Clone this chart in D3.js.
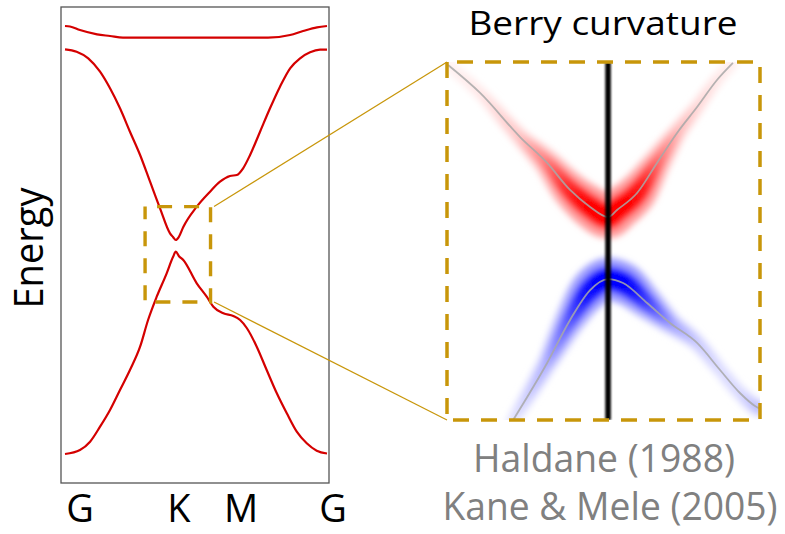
<!DOCTYPE html>
<html>
<head>
<meta charset="utf-8">
<script src="https://cdn.jsdelivr.net/npm/d3@7"></script>
<style>
  body { margin: 0; background: #fff; }
  svg { display: block; }
  text { font-family: "Open Sans", "DejaVu Sans", sans-serif; }
</style>
</head>
<body>
<svg id="chart" width="785" height="534"></svg>
<script>
// --- band structure along G-K-M-G (left panel) ---
const symLabels = ['G', 'K', 'M', 'G'];
const symK = [0, 0.667, 1.0, 1.577];
const labelShift = [15, 3, 10, 6];

const topBandK = [0, 0.03, 0.09, 0.193, 0.271, 0.349, 0.6, 0.9, 1.222, 1.355, 1.433, 1.517, 1.577];
const topBandE = [1.10, 1.0975, 1.08, 1.0585, 1.05, 1.0415, 1.0415, 1.0415, 1.0415, 1.055, 1.075, 1.0935, 1.10];

const condK = [0, 0.070, 0.140, 0.211, 0.271, 0.331, 0.391, 0.452, 0.512, 0.572, 0.632, 0.650, 0.667, 0.685, 0.712,
  0.793, 0.873, 0.933, 0.993, 1.034, 1.072, 1.114, 1.174, 1.234, 1.294, 1.355, 1.415, 1.475, 1.535, 1.577];
const condE = [0.9835, 0.9715, 0.9385, 0.8715, 0.7885, 0.6885, 0.5715, 0.455, 0.3215, 0.1885, 0.0635, 0.045, 0.03, 0.045, 0.095,
  0.1965, 0.2715, 0.3215, 0.35, 0.355, 0.3885, 0.455, 0.5715, 0.6885, 0.7965, 0.8885, 0.9385, 0.9685, 0.9815, 0.9815];

const valK = [0, 0.090, 0.151, 0.211, 0.271, 0.331, 0.391, 0.452, 0.500, 0.552, 0.612, 0.650, 0.667, 0.685, 0.712,
  0.793, 0.853, 0.893, 0.953, 1.013, 1.054, 1.094, 1.154, 1.214, 1.275, 1.335, 1.395, 1.455, 1.515, 1.577];
const valE = [-1.04, -1.02, -0.9785, -0.9035, -0.82, -0.72, -0.62, -0.5035, -0.37, -0.2535, -0.1365, -0.055, -0.0285, -0.05, -0.07,
  -0.1865, -0.2535, -0.3035, -0.3365, -0.35, -0.37, -0.41, -0.5035, -0.62, -0.7365, -0.8365, -0.9285, -0.9865, -1.0235, -1.0375];

// region around K that is blown up on the right
const zoomK = [0.482, 0.876];
const zoomE = [-0.28, 0.197];

// --- Berry curvature near K (right panel) ---
const bcCondQ = [-1.053, -0.842, -0.579, -0.401, -0.25, -0.118, 0, 0.059, 0.191, 0.322, 0.454, 0.586, 0.717, 0.822];
const bcCondE = [1.019, 0.864, 0.619, 0.475, 0.325, 0.231, 0.175, 0.214, 0.308, 0.475, 0.642, 0.786, 0.936, 1.031];
const bcCondW = [0.05, 0.09, 0.22, 0.47, 0.78, 0.96, 1, 1, 0.87, 0.52, 0.26, 0.15, 0.09, 0.06];

const bcValQ = [-0.63, -0.401, -0.25, -0.118, 0, 0.099, 0.257, 0.408, 0.586, 0.737, 0.868, 0.967, 1.0];
const bcValE = [-0.96, -0.636, -0.397, -0.231, -0.17, -0.192, -0.303, -0.414, -0.525, -0.675, -0.803, -0.875, -0.89];
const bcValW = [0.1, 0.3, 0.6, 0.9, 1, 0.95, 0.65, 0.35, 0.2, 0.14, 0.15, 0.22, 0.26];

const gold = '#c8960a';
const svg = d3.select('#chart');
const defs = svg.append('defs');

// ---------- left panel ----------
const x = d3.scaleLinear().domain([0, 1.577]).range([65, 327]);
const y = d3.scaleLinear().domain([-1.185, 1.195]).range([483, 7]);

svg.append('rect')
  .attr('x', 61).attr('y', 7).attr('width', 268).attr('height', 476)
  .attr('fill', 'none').attr('stroke', '#555').attr('stroke-width', 1.3);

const bandLine = d3.line().x(d => x(d[0])).y(d => y(d[1])).curve(d3.curveMonotoneX);
const bands = [
  d3.zip(topBandK, topBandE),
  d3.zip(condK, condE),
  d3.zip(valK, valE)
];
svg.append('g').selectAll('path')
  .data(bands)
  .enter()
  .append('path')
  .attr('d', bandLine)
  .attr('fill', 'none')
  .attr('stroke', '#d40000')
  .attr('stroke-width', 2.2);

svg.append('g').selectAll('text')
  .data(symLabels)
  .enter()
  .append('text')
  .attr('x', (d, i) => x(symK[i]) + labelShift[i])
  .attr('y', 522)
  .attr('text-anchor', 'middle')
  .attr('font-size', 38)
  .attr('fill', '#000')
  .text(d => d);

svg.append('text')
  .attr('transform', 'translate(43,248) rotate(-90)')
  .attr('text-anchor', 'middle')
  .attr('font-size', 40)
  .attr('textLength', 121)
  .attr('lengthAdjust', 'spacingAndGlyphs')
  .text('Energy');

// zoom box + connectors
const zx0 = x(zoomK[0]), zx1 = x(zoomK[1]), zy0 = y(zoomE[1]), zy1 = y(zoomE[0]);

// ---------- right panel ----------
const q = d3.scaleLinear().domain([-1.06, 1.0]).range([447, 760]);
const e = d3.scaleLinear().domain([-0.953, 1.036]).range([420, 62]);
const [px0, px1] = q.range();
const [py1, py0] = e.range();

svg.append('g')
  .attr('stroke', gold).attr('stroke-width', 1.2)
  .selectAll('line')
  .data([[zy0, py0], [zy1, py1]])
  .enter()
  .append('line')
  .attr('x1', zx1 + 3.5).attr('y1', d => d[0])
  .attr('x2', px0).attr('y2', d => d[1]);

svg.append('rect')
  .attr('x', zx0).attr('y', zy0).attr('width', zx1 - zx0).attr('height', zy1 - zy0)
  .attr('fill', 'none').attr('stroke', gold).attr('stroke-width', 3.4)
  .attr('stroke-dasharray', '15 12').attr('stroke-dashoffset', -12);

defs.append('clipPath').attr('id', 'panel-clip')
  .append('rect').attr('x', px0).attr('y', py0).attr('width', px1 - px0).attr('height', py1 - py0);
defs.append('filter').attr('id', 'blur-big')
  .attr('x', '-20%').attr('y', '-20%').attr('width', '140%').attr('height', '140%')
  .append('feGaussianBlur').attr('stdDeviation', 3.2);
defs.append('filter').attr('id', 'blur-small')
  .attr('x', '-50%').attr('y', '-5%').attr('width', '200%').attr('height', '110%')
  .append('feGaussianBlur').attr('stdDeviation', 1.1);
defs.append('filter').attr('id', 'blur-line')
  .attr('x', '-10%').attr('y', '-10%').attr('width', '120%').attr('height', '120%')
  .append('feGaussianBlur').attr('stdDeviation', 0.7);

const panel = svg.append('g').attr('clip-path', 'url(#panel-clip)');
const curvLine = d3.line().x(d => q(d[0])).y(d => e(d[1])).curve(d3.curveMonotoneX);

const bcBands = [
  { pts: d3.zip(bcCondQ, bcCondE), w: bcCondQ, v: bcCondW, color: '#ff0000' },
  { pts: d3.zip(bcValQ, bcValE), w: bcValQ, v: bcValW, color: '#0000ff' }
];

// sample each band path and stack discs coloured by curvature
const spots = [];
const scratch = svg.append('path').attr('fill', 'none');
bcBands.forEach(b => {
  const strength = d3.scaleLinear().domain(b.w).range(b.v).clamp(true);
  const tint = d3.interpolateRgb('#ffffff', b.color);
  scratch.attr('d', curvLine(b.pts));
  const node = scratch.node();
  const len = node.getTotalLength();
  for (let s = 0; s <= len; s += 1) {
    const p = node.getPointAtLength(s);
    const t = strength(q.invert(p.x));
    spots.push({ x: p.x, y: p.y, t: t, tint: tint });
  }
});
scratch.remove();

const glow = panel.append('g').attr('filter', 'url(#blur-big)');
const byT = spots.slice().sort((a, b) => a.t - b.t);
glow.append('g').selectAll('circle')
  .data(byT)
  .enter()
  .append('circle')
  .attr('cx', d => d.x).attr('cy', d => d.y)
  .attr('r', d => 1.7 * (3 + 9.5 * d.t))
  .attr('fill', d => d.tint(0.35 * d.t + 0.03));
glow.append('g').selectAll('circle')
  .data(byT)
  .enter()
  .append('circle')
  .attr('cx', d => d.x).attr('cy', d => d.y)
  .attr('r', d => 3 + 9.5 * d.t)
  .attr('fill', d => d.tint(d.t));

panel.append('g').attr('filter', 'url(#blur-line)')
  .selectAll('path')
  .data(bcBands)
  .enter()
  .append('path')
  .attr('d', d => curvLine(d.pts))
  .attr('fill', 'none')
  .attr('stroke', '#a8a8a8')
  .attr('stroke-opacity', 0.85)
  .attr('stroke-width', 1.8);

panel.append('rect')
  .attr('x', q(0) - 2.8).attr('y', py0).attr('width', 5.6).attr('height', py1 - py0)
  .attr('fill', '#000')
  .attr('filter', 'url(#blur-small)');

svg.append('rect')
  .attr('x', px0).attr('y', py0).attr('width', px1 - px0).attr('height', py1 - py0)
  .attr('fill', 'none').attr('stroke', gold).attr('stroke-width', 3.5)
  .attr('stroke-dasharray', '16 12').attr('stroke-dashoffset', -10);

// titles
svg.append('text')
  .attr('x', 603).attr('y', 35)
  .attr('text-anchor', 'middle')
  .attr('font-size', 32.5)
  .attr('textLength', 269)
  .attr('lengthAdjust', 'spacingAndGlyphs')
  .attr('fill', '#000')
  .text('Berry curvature');

const refs = ['Haldane (1988)', 'Kane & Mele (2005)'];
const refWidths = [262, 335];
svg.append('g').selectAll('text')
  .data(refs)
  .enter()
  .append('text')
  .attr('x', (d, i) => i ? 610 : 604)
  .attr('y', (d, i) => 472 + i * 48)
  .attr('text-anchor', 'middle')
  .attr('font-size', 38)
  .attr('textLength', (d, i) => refWidths[i])
  .attr('lengthAdjust', 'spacingAndGlyphs')
  .attr('fill', '#808080')
  .text(d => d);
</script>
</body>
</html>
